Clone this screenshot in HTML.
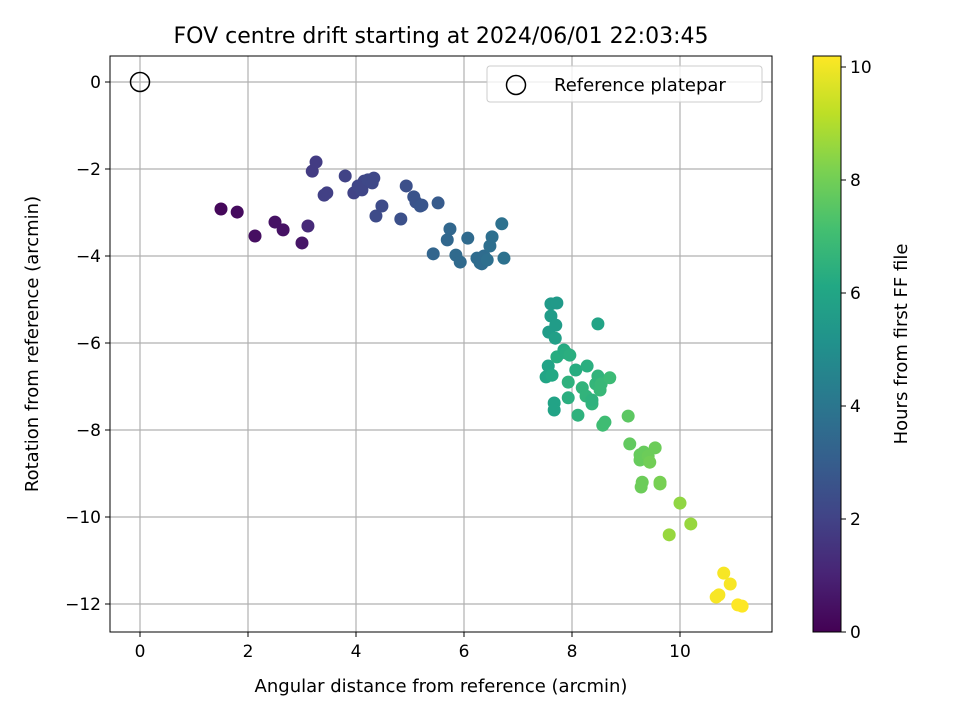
<!DOCTYPE html>
<html><head><meta charset="utf-8"><style>
body{margin:0;background:#fff;font-family:"Liberation Sans","DejaVu Sans",sans-serif}
svg text{font-family:"DejaVu Sans","Liberation Sans",sans-serif}
</style></head><body>
<svg id="c" width="960" height="720" xmlns="http://www.w3.org/2000/svg">
<defs><linearGradient id="vir" x1="0" y1="1" x2="0" y2="0">
<stop offset="0" stop-color="#440154"/><stop offset="0.1" stop-color="#482475"/><stop offset="0.2" stop-color="#414487"/><stop offset="0.3" stop-color="#355f8d"/><stop offset="0.4" stop-color="#2a788e"/><stop offset="0.5" stop-color="#21918c"/><stop offset="0.6" stop-color="#22a884"/><stop offset="0.7" stop-color="#44bf70"/><stop offset="0.8" stop-color="#7ad151"/><stop offset="0.9" stop-color="#bddf26"/><stop offset="1" stop-color="#fde725"/></linearGradient></defs>
<text x="441" y="43" font-size="22" text-anchor="middle">FOV centre drift starting at 2024/06/01 22:03:45</text>
<g id="grid"></g><g id="pts"></g>
<rect x="110" y="56" width="662" height="576" fill="none" stroke="#000" stroke-width="1"/>
<g id="ticks"></g>
<text x="441" y="692" font-size="18" text-anchor="middle">Angular distance from reference (arcmin)</text>
<text transform="translate(38,344) rotate(-90)" font-size="18" text-anchor="middle">Rotation from reference (arcmin)</text>
<g>
<rect x="487" y="66" width="275" height="36" rx="3" fill="#fff" fill-opacity="0.8" stroke="#ccc"/>
<circle cx="516" cy="85" r="9.5" fill="none" stroke="#000" stroke-width="1.5"/>
<text x="554" y="91" font-size="18">Reference platepar</text></g>
<rect x="813" y="56" width="28" height="576" fill="url(#vir)" stroke="#000"/>
<g id="cb"></g>
<text transform="translate(907,344) rotate(-90)" font-size="18" text-anchor="middle">Hours from first FF file</text>
</svg>
<script>
const xVals=[1.50,1.80,2.13,2.50,2.65,3.00,3.11,
3.19,3.26,3.41,3.46,3.80,3.96,4.04,4.11,4.15,4.22,4.30,4.33,4.37,4.48,4.83,4.93,5.07,5.11,5.19,5.22,5.52,
5.43,5.69,5.74,5.85,5.93,6.07,6.24,6.30,6.33,6.37,6.43,6.48,6.52,6.70,6.74,
7.57,7.61,7.61,7.72,7.70,7.69,7.52,7.56,7.63,7.67,7.67,7.72,7.85,7.89,7.96,7.93,7.93,8.07,8.11,8.19,8.26,8.28,8.37,8.37,8.44,8.48,8.48,8.52,8.54,8.57,8.61,8.70,
9.04,9.07,9.26,9.26,9.30,9.28,9.33,9.41,9.44,9.54,9.63,9.63,10.00,10.20,9.80,
10.81,10.93,10.67,10.72,11.07,11.15];
const yVals=[-2.92,-2.99,-3.54,-3.22,-3.40,-3.70,-3.31,
-2.05,-1.84,-2.60,-2.55,-2.16,-2.55,-2.39,-2.48,-2.28,-2.25,-2.32,-2.21,-3.08,-2.85,-3.15,-2.39,-2.64,-2.76,-2.85,-2.83,-2.78,
-3.95,-3.63,-3.38,-3.98,-4.14,-3.59,-4.05,-4.16,-4.18,-4.00,-4.09,-3.77,-3.56,-3.26,-4.05,
-5.75,-5.38,-5.10,-5.08,-5.59,-5.89,-6.78,-6.53,-6.74,-7.38,-7.54,-6.32,-6.16,-6.23,-6.28,-6.90,-7.26,-6.62,-7.66,-7.03,-7.22,-6.53,-7.40,-7.31,-6.94,-5.56,-6.76,-7.08,-6.94,-7.89,-7.82,-6.80,
-7.68,-8.32,-8.57,-8.69,-9.20,-9.31,-8.51,-8.60,-8.74,-8.41,-9.20,-9.24,-9.68,-10.16,-10.41,
-11.29,-11.54,-11.84,-11.79,-12.02,-12.05];
const hours=[0.2,0.3,0.4,0.5,0.5,0.6,1.2,
1.8,1.8,1.9,1.9,2.0,2.0,2.1,2.1,2.1,2.2,2.2,2.2,2.3,2.3,2.5,2.5,2.6,2.6,2.7,2.7,2.9,
3.3,3.4,3.4,3.5,3.5,3.5,3.6,3.6,3.6,3.6,3.7,3.7,3.7,3.8,3.8,
5.6,5.6,5.5,5.5,5.6,5.7,6.0,5.9,6.1,5.9,5.9,6.3,6.2,6.3,6.4,6.5,6.4,6.3,6.5,6.6,6.6,6.4,6.6,6.5,6.7,5.9,6.6,6.8,6.8,7.0,7.0,6.9,
7.6,7.7,7.8,7.8,7.9,7.9,7.8,7.9,8.0,7.9,8.1,8.1,8.5,8.6,8.6,
10.1,10.1,10.1,10.1,10.2,10.2];
const xTicks=[0,2,4,6,8,10];
const yTicks=[0,-2,-4,-6,-8,-10,-12];
const cbTicks=[0,2,4,6,8,10];
const NS="http://www.w3.org/2000/svg";
const X=v=>140+v*54, Y=v=>82-v*43.5, CB=v=>632-v*56.5;
const vir=["#440154","#482475","#414487","#355f8d","#2a788e","#21918c","#22a884","#44bf70","#7ad151","#bddf26","#fde725"];
function hex(h){return [1,3,5].map(i=>parseInt(h.substr(i,2),16));}
function cmap(t){t=Math.max(0,Math.min(1,t));const f=t*10,i=Math.min(9,Math.floor(f)),r=f-i;const a=hex(vir[i]),b=hex(vir[i+1]);return "rgb("+a.map((v,k)=>Math.round(v+(b[k]-v)*r)).join(",")+")";}
function mk(tag,at,parent,txt){const e=document.createElementNS(NS,tag);for(const k in at)e.setAttribute(k,at[k]);if(txt!==undefined)e.textContent=txt;document.getElementById(parent).appendChild(e);return e;}
xTicks.forEach(t=>{
 const g=mk("line",{x1:X(t),x2:X(t),y1:56,y2:632,stroke:"#b0b0b0","stroke-width":1.2},"grid");
 
 
 const l=mk("line",{x1:X(t),x2:X(t),y1:632,y2:637,stroke:"#000"},"ticks");
 
 
 const s=mk("text",{x:X(t),y:657,"font-size":17,"text-anchor":"middle"},"ticks",String(t));
 
 
});
yTicks.forEach(t=>{
 const g=mk("line",{x1:110,x2:772,y1:Y(t),y2:Y(t),stroke:"#b0b0b0","stroke-width":1.2},"grid");
 
 
 const l=mk("line",{x1:105,x2:110,y1:Y(t),y2:Y(t),stroke:"#000"},"ticks");
 
 
 const s=mk("text",{x:101,y:Y(t)+6,"font-size":17,"text-anchor":"end"},"ticks",t<0?"\u2212"+(-t):String(t));
 
 
});
cbTicks.forEach(t=>{
 const l=mk("line",{x1:841,x2:846,y1:CB(t),y2:CB(t),stroke:"#000"},"cb");
 
 
 const s=mk("text",{x:850,y:CB(t)+6,"font-size":17},"cb",String(t));
 
 
});
const ref=mk("circle",{cx:X(0),cy:Y(0),r:9.5,fill:"none",stroke:"#000","stroke-width":1.5},"pts");


xVals.forEach((x,i)=>{
 const c=mk("circle",{cx:X(x),cy:Y(yVals[i]),r:6.5,fill:cmap(hours[i]/10.2)},"pts");
 
 
});
</script>
</body></html>
